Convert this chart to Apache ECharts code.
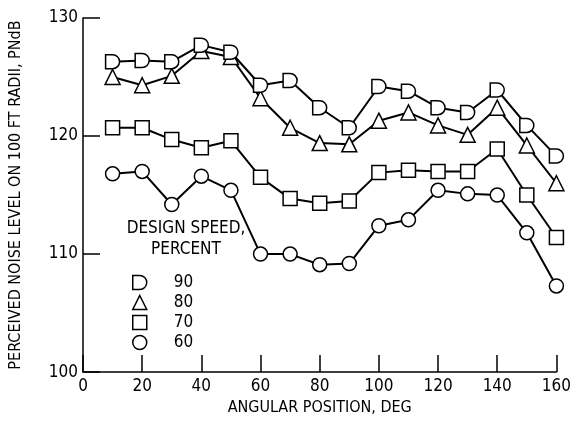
<!DOCTYPE html>
<html>
<head>
<meta charset="utf-8">
<script src="https://cdn.jsdelivr.net/npm/echarts@6/dist/echarts.min.js"></script>
<style>
  html, body { margin: 0; padding: 0; background: #fff; }
  #main { width: 574px; height: 421px; }
</style>
</head>
<body>
<div id="main"></div>
<script>
// angular positions, deg
var angles = [10, 20, 30, 40, 50, 60, 70, 80, 90, 100, 110, 120, 130, 140, 150, 160];

// perceived noise level, PNdB, per design speed (percent)
var speed90 = [126.3, 126.4, 126.3, 127.7, 127.1, 124.3, 124.7, 122.4, 120.7, 124.2, 123.8, 122.4, 122.0, 123.9, 120.9, 118.3];
var speed80 = [125.0, 124.3, 125.1, 127.2, 126.7, 123.2, 120.7, 119.4, 119.3, 121.3, 122.0, 120.9, 120.1, 122.4, 119.2, 116.0];
var speed70 = [120.7, 120.7, 119.7, 119.0, 119.6, 116.5, 114.7, 114.3, 114.5, 116.9, 117.1, 117.0, 117.0, 118.9, 115.0, 111.4];
var speed60 = [116.8, 117.0, 114.2, 116.6, 115.4, 110.0, 110.0, 109.1, 109.2, 112.4, 112.9, 115.4, 115.1, 115.0, 111.8, 107.3];

var speedNames = ['90', '80', '70', '60'];

var font = '"Liberation Sans Narrow", "DejaVu Sans Condensed", sans-serif';
var dShape = 'path://M0,0 L5,0 A5,5 0 0 1 5,10 L0,10 Z';
var symbols = [dShape, 'triangle', 'rect', 'circle'];
var allData = [speed90, speed80, speed70, speed60];

function pairs(vals) {
    return angles.map(function (a, i) { return [a, vals[i]]; });
}

var myChart = echarts.init(document.getElementById('main'));

var series = speedNames.map(function (name, k) {
    return {
        name: name,
        type: 'line',
        data: pairs(allData[k]),
        symbol: symbols[k],
        symbolSize: k === 1 ? 15 : 14,
        showAllSymbol: true,
        lineStyle: { color: '#000', width: 2 },
        itemStyle: { color: '#fff', borderColor: '#000', borderWidth: 1.5 },
        z: 10 - k,
        animation: false
    };
});

var option = {
    animation: false,
    grid: { left: 80, right: 12, top: 18, bottom: 44 },
    xAxis: {
        type: 'value',
        min: 0, max: 160, interval: 20,
        name: 'ANGULAR POSITION, DEG',
        nameLocation: 'middle',
        nameGap: 26,
        nameTextStyle: { fontFamily: font, fontSize: 16, color: '#000' },
        axisLine: { lineStyle: { color: '#000', width: 1.5 } },
        axisTick: { inside: true, length: 17, lineStyle: { color: '#000', width: 1.5 } },
        axisLabel: { fontFamily: font, fontSize: 17, color: '#000', margin: 6 },
        splitLine: { show: false }
    },
    yAxis: {
        type: 'value',
        min: 100, max: 130, interval: 10,
        name: 'PERCEIVED NOISE LEVEL ON 100 FT RADII, PNdB',
        nameLocation: 'middle',
        nameGap: 59,
        nameTextStyle: { fontFamily: font, fontSize: 16, color: '#000' },
        axisLine: { show: true, lineStyle: { color: '#000', width: 1.5 } },
        axisTick: { inside: true, length: 17, lineStyle: { color: '#000', width: 1.5 } },
        axisLabel: { fontFamily: font, fontSize: 17, color: '#000', margin: 5 },
        splitLine: { show: false }
    },
    legend: {
        orient: 'vertical',
        left: 127,
        top: 269,
        itemWidth: 14,
        itemHeight: 14,
        itemGap: 3,
        selectedMode: false,
        data: speedNames.map(function (n, k) {
            return {
                name: n,
                icon: symbols[k],
                itemStyle: { color: '#fff', borderColor: '#000', borderWidth: 1.5 }
            };
        }),
        textStyle: { fontFamily: font, fontSize: 17, color: '#000', padding: [0, 0, 0, 22] }
    },
    graphic: [
        {
            type: 'text',
            x: 186,
            y: 218,
            style: {
                text: 'DESIGN SPEED,\nPERCENT',
                align: 'center',
                verticalAlign: 'top',
                fontFamily: font,
                fontSize: 17,
                lineHeight: 21,
                fill: '#000'
            }
        }
    ],
    series: series
};

myChart.setOption(option);
</script>
</body>
</html>
